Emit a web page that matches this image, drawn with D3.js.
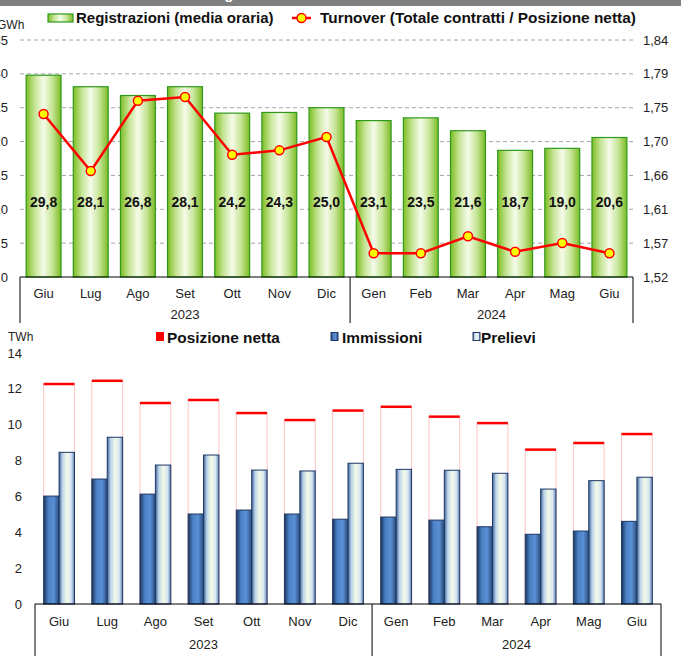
<!DOCTYPE html>
<html>
<head>
<meta charset="utf-8">
<script src="https://cdn.jsdelivr.net/npm/d3@7.9.0/dist/d3.min.js"></script>
<style>
  body { margin: 0; background: #fff; }
  svg { display: block; font-family: "Liberation Sans", Arial, sans-serif; }
</style>
</head>
<body>
<svg id="chart" width="681" height="656"></svg>
<script>
// data
const months = ['Giu', 'Lug', 'Ago', 'Set', 'Ott', 'Nov', 'Dic', 'Gen', 'Feb', 'Mar', 'Apr', 'Mag', 'Giu'];
const years = [{ label: '2023', from: 0, to: 7 }, { label: '2024', from: 7, to: 13 }];
const registrazioni = [29.8, 28.1, 26.8, 28.1, 24.2, 24.3, 25.0, 23.1, 23.5, 21.6, 18.7, 19.0, 20.6];
const turnover = [1.740, 1.663, 1.758, 1.763, 1.685, 1.691, 1.709, 1.552, 1.552, 1.575, 1.554, 1.566, 1.552];
const posizioneNetta = [12.27, 12.45, 11.21, 11.38, 10.65, 10.26, 10.79, 11.00, 10.45, 10.09, 8.61, 8.98, 9.48];
const immissioni = [6.02, 6.97, 6.13, 5.02, 5.24, 5.02, 4.73, 4.85, 4.68, 4.31, 3.89, 4.07, 4.61];
const prelievi = [8.46, 9.30, 7.75, 8.31, 7.47, 7.42, 7.85, 7.51, 7.46, 7.29, 6.41, 6.88, 7.07];
const leftTicks = [0, 5, 10, 15, 20, 25, 30, 35];
const bottomTicks = [0, 2, 4, 6, 8, 10, 12, 14];

const svg = d3.select('#chart');
const fmt = d3.format('.2f');
const comma = s => s.replace('.', ',');

// gradients
const defs = svg.append('defs');
function grad(id, stops) {
  const g = defs.append('linearGradient').attr('id', id)
    .attr('x1', '0%').attr('x2', '100%').attr('y1', '0%').attr('y2', '0%');
  stops.forEach(([o, c]) => g.append('stop').attr('offset', o).attr('stop-color', c));
}
grad('green', [[0, '#7dbd22'], [0.25, '#c6e596'], [0.5, '#f5fbe9'], [0.75, '#c6e596'], [1, '#7cbb24']]);
grad('blue', [[0, '#1c355c'], [0.3, '#4a80c4'], [0.65, '#5a90d6'], [1, '#2a4c7c']]);
grad('pale', [[0, '#3d6392'], [0.22, '#bcd3ec'], [0.5, '#f2fbe6'], [0.78, '#d9e6f4'], [1, '#5f84b4']]);

// header bar (cropped at the top of the picture)
svg.append('rect').attr('x', 0).attr('y', 0).attr('width', 681).attr('height', 6).attr('fill', '#808080');
svg.append('text').attr('x', 340).attr('y', -1).attr('text-anchor', 'middle')
  .attr('font-size', 15).attr('font-weight', 'bold').attr('fill', '#fff')
  .text('Registrazioni e turnover: media oraria');

// ---------- top chart ----------
const xT = d3.scaleBand().domain(d3.range(months.length)).range([20, 633])
  .paddingInner(0.26).paddingOuter(0.13);
const yL = d3.scaleLinear().domain([0, 35]).range([277, 40]);
const yR = d3.scaleLinear().domain([1.52, 1.84]).range([277, 40]);
const rightTicks = d3.range(8).map(i => 1.52 + i * (0.32 / 7));

const gTop = svg.append('g');

// dashed grid
gTop.selectAll('.grid').data(leftTicks.slice(1)).join('line')
  .attr('x1', 20).attr('x2', 633)
  .attr('y1', d => yL(d)).attr('y2', d => yL(d))
  .attr('stroke', '#a6a6a6').attr('stroke-dasharray', '4,3');

// left ticks (cropped on the left edge, as in the original)
gTop.selectAll('.tl').data(leftTicks).join('text')
  .attr('x', 8).attr('y', d => yL(d)).attr('dy', '0.35em')
  .attr('text-anchor', 'end').attr('font-size', 13).attr('fill', '#222')
  .text(d => d);
gTop.append('text').attr('x', -3).attr('y', 29).attr('font-size', 12).attr('fill', '#222').text('GWh');

// right ticks
gTop.selectAll('.tr').data(rightTicks).join('text')
  .attr('x', 643).attr('y', d => yR(d)).attr('dy', '0.35em')
  .attr('font-size', 13).attr('fill', '#222')
  .text(d => comma(fmt(d)));

// bars
gTop.selectAll('.bar').data(registrazioni).join('rect')
  .attr('x', (d, i) => xT(i)).attr('width', xT.bandwidth())
  .attr('y', d => yL(d)).attr('height', d => yL(0) - yL(d))
  .attr('fill', 'url(#green)').attr('stroke', '#2e9a1c').attr('stroke-width', 1.2);

gTop.selectAll('.lab').data(registrazioni).join('text')
  .attr('x', (d, i) => xT(i) + xT.bandwidth() / 2).attr('y', yL(11)).attr('dy', '0.35em')
  .attr('text-anchor', 'middle').attr('font-size', 14).attr('font-weight', 'bold').attr('fill', '#111')
  .text(d => d.toFixed(1).replace('.', ','));

// turnover line
const line = d3.line().x((d, i) => xT(i) + xT.bandwidth() / 2).y(d => yR(d));
gTop.append('path').datum(turnover).attr('d', line)
  .attr('fill', 'none').attr('stroke', '#ff0000').attr('stroke-width', 2.5);
gTop.selectAll('.dot').data(turnover).join('circle')
  .attr('cx', (d, i) => xT(i) + xT.bandwidth() / 2).attr('cy', d => yR(d)).attr('r', 4.5)
  .attr('fill', '#ffff00').attr('stroke', '#ff0000').attr('stroke-width', 1.5);

// category axis
function catAxis(g, x, y0, yEnd, monthY, yearY) {
  const step = x.step();
  const x0 = x.range()[0], x1 = x.range()[1];
  g.append('line').attr('x1', x0).attr('x2', x1).attr('y1', y0).attr('y2', y0).attr('stroke', '#000');
  [0, 7, 13].forEach(k => g.append('line')
    .attr('x1', x0 + k * step).attr('x2', x0 + k * step)
    .attr('y1', y0).attr('y2', yEnd).attr('stroke', '#000'));
  g.selectAll('.m').data(months).join('text')
    .attr('x', (d, i) => x0 + (i + 0.5) * step).attr('y', monthY).attr('dy', '0.35em')
    .attr('text-anchor', 'middle').attr('font-size', 13).attr('fill', '#222').text(d => d);
  g.selectAll('.yr').data(years).join('text')
    .attr('x', d => x0 + (d.from + d.to) / 2 * step).attr('y', yearY).attr('dy', '0.35em')
    .attr('text-anchor', 'middle').attr('font-size', 13).attr('fill', '#222').text(d => d.label);
}
catAxis(gTop.append('g'), xT, 277, 323, 293, 314);

// top legend
const lg = svg.append('g');
lg.append('rect').attr('x', 48).attr('y', 14).attr('width', 25).attr('height', 8)
  .attr('fill', 'url(#green)').attr('stroke', '#2e9a1c').attr('stroke-width', 1.2);
lg.append('text').attr('x', 76).attr('y', 23).attr('font-size', 15).attr('font-weight', 'bold')
  .attr('fill', '#111').text('Registrazioni (media oraria)');
lg.append('line').attr('x1', 292).attr('x2', 311).attr('y1', 18).attr('y2', 18)
  .attr('stroke', '#ff0000').attr('stroke-width', 2.5);
lg.append('circle').attr('cx', 301.5).attr('cy', 18).attr('r', 4.5)
  .attr('fill', '#ffff00').attr('stroke', '#ff0000').attr('stroke-width', 1.5);
lg.append('text').attr('x', 320).attr('y', 23).attr('font-size', 15.4).attr('font-weight', 'bold')
  .attr('fill', '#111').text('Turnover (Totale contratti / Posizione netta)');

// ---------- bottom chart ----------
const xB = d3.scaleBand().domain(d3.range(months.length)).range([35, 661])
  .paddingInner(0.36).paddingOuter(0.18);
const xSub = d3.scaleBand().domain([0, 1]).range([0, xB.bandwidth()]);
const yB = d3.scaleLinear().domain([0, 14]).range([604, 353]);

const gBot = svg.append('g');

gBot.selectAll('.tb').data(bottomTicks).join('text')
  .attr('x', 22).attr('y', d => yB(d)).attr('dy', '0.35em')
  .attr('text-anchor', 'end').attr('font-size', 13).attr('fill', '#222').text(d => d);
gBot.append('text').attr('x', 8).attr('y', 341).attr('font-size', 12).attr('fill', '#222').text('TWh');

// posizione netta frame
gBot.selectAll('.pn').data(posizioneNetta).join('rect')
  .attr('x', (d, i) => xB(i)).attr('width', xB.bandwidth())
  .attr('y', d => yB(d)).attr('height', d => yB(0) - yB(d))
  .attr('fill', 'none').attr('stroke', '#ffc4c4').attr('stroke-width', 1);
gBot.selectAll('.pnTop').data(posizioneNetta).join('line')
  .attr('x1', (d, i) => xB(i)).attr('x2', (d, i) => xB(i) + xB.bandwidth())
  .attr('y1', d => yB(d)).attr('y2', d => yB(d))
  .attr('stroke', '#ff0000').attr('stroke-width', 2.5);

gBot.selectAll('.imm').data(immissioni).join('rect')
  .attr('x', (d, i) => xB(i) + xSub(0)).attr('width', xSub.bandwidth())
  .attr('y', d => yB(d)).attr('height', d => yB(0) - yB(d))
  .attr('fill', 'url(#blue)').attr('stroke', '#1f3864').attr('stroke-width', 1);
gBot.selectAll('.pre').data(prelievi).join('rect')
  .attr('x', (d, i) => xB(i) + xSub(1)).attr('width', xSub.bandwidth())
  .attr('y', d => yB(d)).attr('height', d => yB(0) - yB(d))
  .attr('fill', 'url(#pale)').attr('stroke', '#1f3864').attr('stroke-width', 1);

catAxis(gBot.append('g'), xB, 604, 656, 621, 644);

// bottom legend
const lb = svg.append('g');
lb.append('rect').attr('x', 156).attr('y', 332).attr('width', 8).attr('height', 9).attr('fill', '#ff0000');
lb.append('text').attr('x', 167).attr('y', 343).attr('font-size', 15.4).attr('font-weight', 'bold')
  .attr('fill', '#111').text('Posizione netta');
lb.append('rect').attr('x', 331).attr('y', 332.5).attr('width', 7).attr('height', 8)
  .attr('fill', 'url(#blue)').attr('stroke', '#1f3864');
lb.append('text').attr('x', 342).attr('y', 343).attr('font-size', 15.4).attr('font-weight', 'bold')
  .attr('fill', '#111').text('Immissioni');
lb.append('rect').attr('x', 473).attr('y', 332.5).attr('width', 7).attr('height', 8)
  .attr('fill', 'url(#pale)').attr('stroke', '#1f3864');
lb.append('text').attr('x', 481).attr('y', 343).attr('font-size', 15.4).attr('font-weight', 'bold')
  .attr('fill', '#111').text('Prelievi');
</script>
</body>
</html>
